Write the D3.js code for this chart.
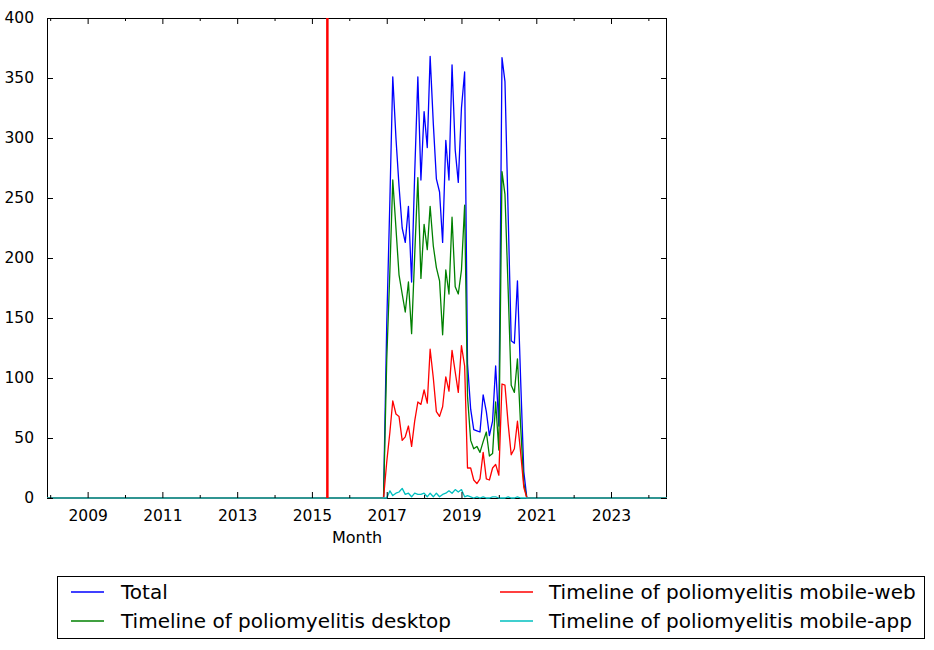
<!DOCTYPE html>
<html>
<head>
<meta charset="utf-8">
<script src="https://cdn.jsdelivr.net/npm/d3@7"></script>
<style>
  html, body { margin: 0; padding: 0; background: #fff; }
  svg { display: block; font-family: "DejaVu Sans", sans-serif; }
</style>
</head>
<body>
<svg id="chart" width="934" height="650"></svg>
<script>
// ---------------- DATA ----------------
// Monthly series span (first/last month shown on the axis)
const seriesStart = "2007-12-01";
const seriesEnd = "2024-07-01";
// First month with non-zero views; the arrays below run monthly from here.
// Months outside this window read as 0 in the picture.
const activeStart = "2017-01-01";
const total =   [145, 249, 351, 300, 260, 225, 213, 243, 180, 270, 351, 265, 322, 292, 368, 312, 266, 255, 213, 298, 265, 361, 290, 263, 325, 355, 112, 74, 57, 56, 55, 86, 72, 52, 64, 110, 60, 367, 347, 237, 131, 129, 181, 99, 22];
const desktop = [115, 190, 265, 225, 186, 170, 155, 180, 137, 202, 267, 183, 228, 207, 243, 210, 192, 181, 136, 190, 170, 234, 176, 170, 190, 244, 85, 48, 41, 43, 38, 47, 55, 35, 37, 80, 40, 272, 253, 174, 94, 88, 116, 60, 12];
const mobileWeb = [30, 55, 81, 70, 68, 48, 51, 60, 43, 64, 80, 78, 90, 79, 124, 100, 72, 68, 76, 101, 89, 123, 105, 88, 127, 110, 25, 25, 15, 12, 16, 38, 16, 15, 25, 28, 19, 95, 94, 62, 36, 41, 64, 38, 9];
const mobileApp = [0, 6, 2, 4, 5, 8, 3, 4, 1, 4, 3, 3, 4, 1, 4, 1, 4, 1, 3, 4, 6, 4, 7, 5, 7, 1, 2, 1, 0, 1, 0, 1, 0, 0, 1, 1, 0, 0, 0, 1, 0, 0, 1, 0, 0];
const seriesNames = ["Total", "Timeline of poliomyelitis desktop", "Timeline of poliomyelitis mobile-web", "Timeline of poliomyelitis mobile-app"];
const seriesColors = ["#0000ff", "#008000", "#ff0000", "#00bfbf"];
const markerDate = "2015-06-01";
const yTicks = [0, 50, 100, 150, 200, 250, 300, 350, 400];
const xMajorYears = [2009, 2011, 2013, 2015, 2017, 2019, 2021, 2023];
const xMinorYears = [2008, 2010, 2012, 2014, 2016, 2018, 2020, 2022, 2024];
const xLabel = "Month";

// ---------------- LAYOUT ----------------
const svg = d3.select("#chart");
const L = 47, R = 667, T = 18, B = 498;
const parse = d3.utcParse("%Y-%m-%d");
const months = d3.utcMonth.range(parse(seriesStart), d3.utcMonth.offset(parse(seriesEnd), 1));
const x = d3.scaleUtc().domain([parse(seriesStart), parse(seriesEnd)]).range([L, R]);
const y = d3.scaleLinear().domain([0, 400]).range([B, T]);

const a0 = parse(activeStart);
function fullSeries(arr) {
  return months.map(m => {
    const k = d3.utcMonth.count(a0, m);
    return { date: m, value: (k >= 0 && k < arr.length) ? arr[k] : 0 };
  });
}
const allSeries = [total, desktop, mobileWeb, mobileApp].map(fullSeries);

svg.append("defs").append("clipPath").attr("id", "plotclip")
  .append("rect").attr("x", L).attr("y", T).attr("width", R - L).attr("height", B - T + 1);

// frame (drawn first, lines over it like the reference)
svg.append("rect").attr("x", L + 0.5).attr("y", T + 0.5)
  .attr("width", R - L - 1).attr("height", B - T)
  .attr("fill", "none").attr("stroke", "#000").attr("stroke-width", 1);

const line = d3.line().x(d => x(d.date)).y(d => y(d.value));
const g = svg.append("g").attr("clip-path", "url(#plotclip)");
allSeries.forEach((s, i) => {
  g.append("path").datum(s)
    .attr("fill", "none")
    .attr("stroke", seriesColors[i])
    .attr("stroke-width", 1.3)
    .attr("stroke-linejoin", "round")
    .attr("d", line);
});

// vertical marker
g.append("line")
  .attr("x1", x(parse(markerDate))).attr("x2", x(parse(markerDate)))
  .attr("y1", T).attr("y2", B)
  .attr("stroke", "#ff0000").attr("stroke-width", 2.5);

// axes with inward ticks
const fs = 15.5;
const xMajor = xMajorYears.map(yr => new Date(Date.UTC(yr, 0, 1)));
const xMinor = xMinorYears.map(yr => new Date(Date.UTC(yr, 0, 1))).filter(d => x(d) >= L && x(d) <= R);

const xAxisB = d3.axisBottom(x).tickValues(xMajor).tickFormat(d3.utcFormat("%Y")).tickSizeInner(-6).tickSizeOuter(0).tickPadding(12);
const gxb = svg.append("g").attr("transform", `translate(0,${B})`).call(xAxisB);
gxb.select(".domain").remove();
gxb.selectAll("text").attr("font-size", fs).attr("font-family", "DejaVu Sans").attr("fill", "#000");
gxb.selectAll("line").attr("stroke", "#000");

const gxbm = svg.append("g").attr("transform", `translate(0,${B})`)
  .call(d3.axisBottom(x).tickValues(xMinor).tickFormat("").tickSizeInner(-3).tickSizeOuter(0));
gxbm.select(".domain").remove();

const gxt = svg.append("g").attr("transform", `translate(0,${T})`)
  .call(d3.axisTop(x).tickValues(xMajor).tickFormat("").tickSizeInner(-6).tickSizeOuter(0));
gxt.select(".domain").remove();
const gxtm = svg.append("g").attr("transform", `translate(0,${T})`)
  .call(d3.axisTop(x).tickValues(xMinor).tickFormat("").tickSizeInner(-3).tickSizeOuter(0));
gxtm.select(".domain").remove();

const gyl = svg.append("g").attr("transform", `translate(${L},0)`)
  .call(d3.axisLeft(y).tickValues(yTicks).tickFormat(d3.format("d")).tickSizeInner(-6).tickSizeOuter(0).tickPadding(13));
gyl.select(".domain").remove();
gyl.selectAll("text").attr("font-size", fs).attr("font-family", "DejaVu Sans").attr("fill", "#000");
const gyr = svg.append("g").attr("transform", `translate(${R},0)`)
  .call(d3.axisRight(y).tickValues(yTicks).tickFormat("").tickSizeInner(-6).tickSizeOuter(0));
gyr.select(".domain").remove();

// x label
svg.append("text").attr("x", (L + R) / 2).attr("y", 543)
  .attr("text-anchor", "middle").attr("font-size", 16).attr("fill", "#000").text(xLabel);

// legend
const lg = svg.append("g");
lg.append("rect").attr("x", 57.5).attr("y", 576.5).attr("width", 867).attr("height", 62)
  .attr("fill", "#fff").attr("stroke", "#000").attr("stroke-width", 1);
const legendPos = [
  { lx: 71, tx: 121, cy: 592 },
  { lx: 71, tx: 121, cy: 621 },
  { lx: 500, tx: 549, cy: 592 },
  { lx: 500, tx: 549, cy: 621 }
];
seriesNames.forEach((name, i) => {
  const p = legendPos[i];
  lg.append("line").attr("x1", p.lx).attr("x2", p.lx + 33).attr("y1", p.cy).attr("y2", p.cy)
    .attr("stroke", seriesColors[i]).attr("stroke-width", 1.3);
  lg.append("text").attr("x", p.tx).attr("y", p.cy + 7).attr("font-size", 20).attr("fill", "#000").text(name);
});
</script>
</body>
</html>
